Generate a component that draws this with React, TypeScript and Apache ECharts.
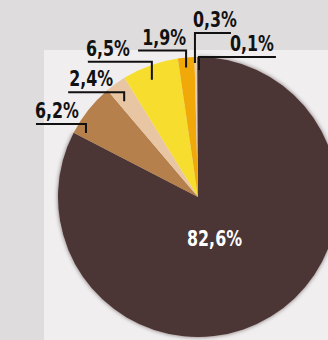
import React, { useEffect, useRef } from "react";
import * as echarts from "echarts";

// ---- data ----
const categories = ["Group A", "Group B", "Group C", "Group D", "Group E", "Group F", "Group G"];
const shares = [82.6, 6.2, 2.4, 6.5, 1.9, 0.3, 0.1];
const sliceColors = ["#4b3536", "#b5804c", "#e8c6a4", "#f6dd2e", "#f1a90a", "#e3cdb8", "#5e4f58"];

// ---- layout / style (not data) ----
const W = 328;
const H = 340;
const CX = 198;
const CY = 197;
const R = 140;
const FONT_FAMILY = "'DejaVu Sans Condensed', 'DejaVu Sans', sans-serif";
const FONT = `bold 22px ${FONT_FAMILY}`;
const TEXT_SCALE_X = 0.8;

// per-label annotation geometry: angular shift from slice middle (deg), anchor radius,
// tick rise, underline length (signed), text x offset from tick, alignment
const labelGeom = [
  { shift: 9.6, r: 44.7, rise: 0, line: 0, dx: 0, align: "center" },
  { shift: -8.8, r: 129, rise: 9, line: -50, dx: -7, align: "right" },
  { shift: -1.6, r: 121, rise: 9, line: -56, dx: -11, align: "right" },
  { shift: -1.5, r: 126, rise: 18, line: -64, dx: -22, align: "right" },
  { shift: -0.4, r: 130, rise: 17, line: -48, dx: 0, align: "right" },
  { shift: -0.4, r: 134, rise: 30, line: 36, dx: -2, align: "left" },
  { shift: 0.6, r: 127, rise: 13, line: 77, dx: 75, align: "right" },
];

const fmt = (v: number) => v.toFixed(1).replace(".", ",") + "%";

export default function App() {
  const ref = useRef<HTMLDivElement>(null);

  useEffect(() => {
    if (!ref.current) return;
    const chart = echarts.init(ref.current, undefined, { renderer: "svg" });
    const total = shares.reduce((a, b) => a + b, 0);
    const cum: number[] = [];
    shares.reduce((acc, v, i) => {
      cum[i] = acc;
      return acc + v;
    }, 0);

    const annotations: any[] = [];
    shares.forEach((v, i) => {
      const g = labelGeom[i];
      const mid = ((cum[i] + v / 2) / total) * 360;
      const th = ((mid + g.shift) * Math.PI) / 180;
      const bx = CX + g.r * Math.sin(th);
      const by = CY - g.r * Math.cos(th);
      if (i === 0) {
        annotations.push({
          type: "text",
          z: 20,
          x: bx,
          y: by,
          scaleX: TEXT_SCALE_X,
          style: {
            text: fmt(v),
            font: FONT,
            fill: "#ffffff",
            textAlign: "center",
            textVerticalAlign: "middle",
          },
        });
        return;
      }
      const ty = by - g.rise;
      annotations.push({
        type: "polyline",
        z: 20,
        shape: {
          points: [
            [bx, by],
            [bx, ty],
            [bx + g.line, ty],
          ],
        },
        style: { stroke: "#111111", lineWidth: 2, fill: null },
      });
      annotations.push({
        type: "text",
        z: 20,
        x: bx + g.dx,
        y: ty - 2,
        scaleX: TEXT_SCALE_X,
        style: {
          text: fmt(v),
          font: FONT,
          fill: "#111111",
          textAlign: g.align,
          textVerticalAlign: "bottom",
        },
      });
    });

    chart.setOption({
      animation: false,
      backgroundColor: "#dfdcdd",
      graphic: [
        {
          type: "rect",
          z: -10,
          shape: { x: 44, y: 50, width: W - 44, height: H - 50 },
          style: { fill: "#f1eeef" },
        },
        ...annotations,
      ],
      series: [
        {
          type: "pie",
          center: [CX, CY],
          radius: R,
          startAngle: 90,
          clockwise: true,
          avoidLabelOverlap: false,
          itemStyle: { borderWidth: 0 },
          label: { show: false },
          labelLine: { show: false },
          data: shares.map((v, i) => ({
            name: categories[i],
            value: v,
            itemStyle:
              i === 0
                ? { color: sliceColors[i], shadowBlur: 4, shadowColor: "rgba(30,15,15,0.55)" }
                : { color: sliceColors[i] },
          })),
        },
      ],
    });

    return () => chart.dispose();
  }, []);

  return (
    <div
      ref={ref}
      style={{ position: "absolute", left: 0, top: 0, width: W, height: H }}
    />
  );
}
